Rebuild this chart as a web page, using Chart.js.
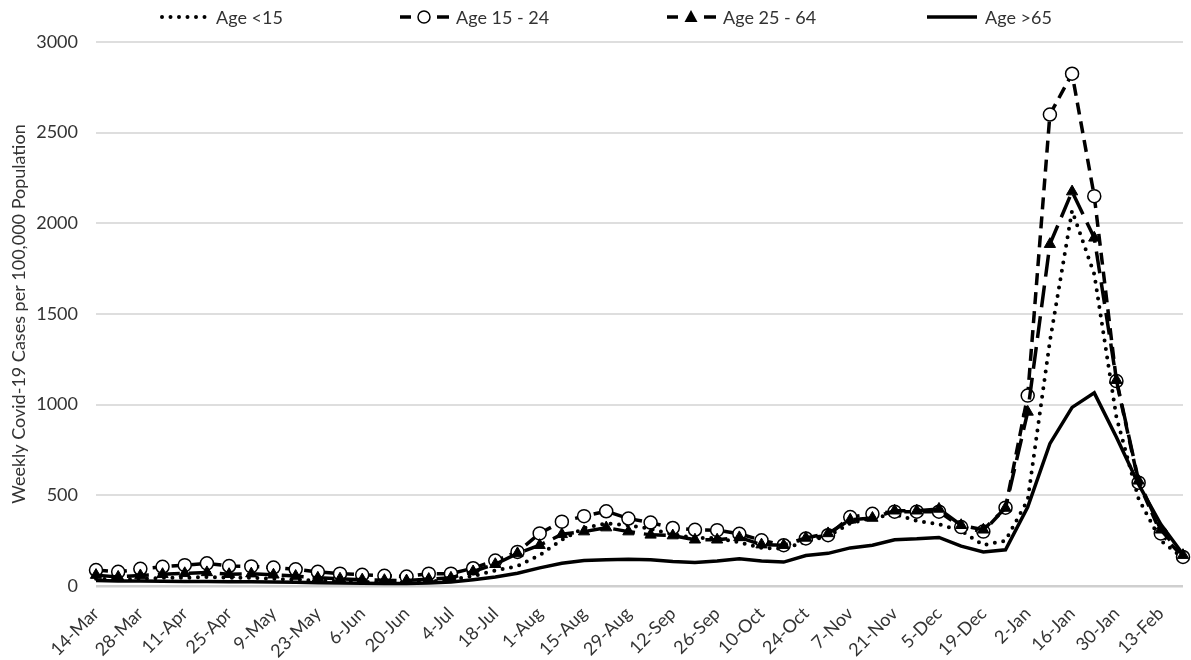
<!DOCTYPE html>
<html>
<head>
<meta charset="utf-8">
<script src="https://cdn.jsdelivr.net/npm/chart.js@4.4.0/dist/chart.umd.min.js"></script>
<style>
  html, body { margin: 0; padding: 0; background: #fff; }
</style>
</head>
<body>
<canvas id="covidChart" width="1191" height="660"></canvas>
<script>
"use strict";

// weekly points, a label shown every two weeks
const weeks = ['14-Mar', '21-Mar', '28-Mar', '4-Apr', '11-Apr', '18-Apr', '25-Apr', '2-May', '9-May', '16-May',
    '23-May', '30-May', '6-Jun', '13-Jun', '20-Jun', '27-Jun', '4-Jul', '11-Jul', '18-Jul', '25-Jul',
    '1-Aug', '8-Aug', '15-Aug', '22-Aug', '29-Aug', '5-Sep', '12-Sep', '19-Sep', '26-Sep', '3-Oct',
    '10-Oct', '17-Oct', '24-Oct', '31-Oct', '7-Nov', '14-Nov', '21-Nov', '28-Nov', '5-Dec', '12-Dec',
    '19-Dec', '26-Dec', '2-Jan', '9-Jan', '16-Jan', '23-Jan', '30-Jan', '6-Feb', '13-Feb', '20-Feb'];

const ageUnder15 = [40, 35, 40, 45, 45, 50, 45, 45, 40, 35,
    30, 25, 22, 20, 20, 25, 35, 55, 85, 110,
    170, 255, 320, 345, 335, 315, 285, 265, 265, 240,
    210, 205, 245, 275, 345, 375, 395, 360, 340, 305,
    225, 250, 475, 1350, 2070, 1720, 930, 480, 250, 155];

const age15to24 = [88, 78, 95, 106, 115, 125, 110, 108, 102, 92,
    78, 68, 62, 56, 52, 68, 68, 98, 140, 188,
    290, 355, 385, 412, 372, 350, 320, 310, 308, 288,
    252, 225, 262, 280, 380, 398, 410, 410, 410, 325,
    300, 432, 1050, 2600, 2825, 2150, 1130, 570, 290, 160];

const age25to64 = [60, 50, 58, 65, 70, 75, 65, 68, 62, 55,
    45, 40, 35, 32, 30, 38, 45, 80, 120, 180,
    225, 285, 300, 322, 300, 282, 278, 255, 255, 268,
    228, 225, 265, 290, 365, 375, 415, 415, 425, 335,
    310, 430, 960, 1885, 2175, 1920, 1135, 580, 310, 170];

const ageOver65 = [30, 28, 27, 26, 25, 25, 24, 23, 22, 20,
    18, 16, 15, 14, 14, 16, 22, 35, 50, 70,
    100, 125, 140, 145, 148, 145, 135, 130, 138, 150,
    138, 132, 168, 180, 210, 225, 255, 260, 268, 220,
    188, 200, 435, 785, 985, 1065, 820, 560, 340, 175];

const FONT = 'Lato, "Open Sans", sans-serif';
const TEXT = '#333333';

// legend drawn by hand so each sample shows its line pattern and marker
const lineLegend = {
    id: 'lineLegend',
    afterDraw(chart) {
        const ctx = chart.ctx;
        const starts = [160, 400, 667, 925];
        const y = 17;
        chart.data.datasets.forEach((ds, i) => {
            const x = starts[i];
            ctx.save();
            ctx.strokeStyle = '#000';
            ctx.fillStyle = '#000';
            ctx.lineWidth = ds.borderWidth;
            if (ds.pointRadius === 0) {
                ctx.lineCap = ds.borderCapStyle || 'butt';
                ctx.setLineDash(ds.borderDash || []);
                ctx.beginPath();
                ctx.moveTo(x + 2, y);
                ctx.lineTo(x + 52, y);
                ctx.stroke();
            } else {
                ctx.beginPath();
                ctx.moveTo(x, y); ctx.lineTo(x + 11, y);
                ctx.moveTo(x + 37, y); ctx.lineTo(x + 49, y);
                ctx.stroke();
                ctx.lineWidth = 1.5;
                ctx.beginPath();
                if (ds.pointStyle === 'circle') {
                    ctx.arc(x + 24, y, 6, 0, Math.PI * 2);
                    ctx.fillStyle = '#fff';
                    ctx.fill();
                    ctx.stroke();
                } else {
                    ctx.moveTo(x + 24, y - 7);
                    ctx.lineTo(x + 30.5, y + 5);
                    ctx.lineTo(x + 17.5, y + 5);
                    ctx.closePath();
                    ctx.fill();
                }
            }
            ctx.fillStyle = TEXT;
            ctx.font = '18px ' + FONT;
            ctx.textBaseline = 'middle';
            ctx.fillText(ds.label, x + (ds.pointRadius === 0 && !ds.borderDash ? 60 : 56), y + 1);
            ctx.restore();
        });
    }
};

const ctx = document.getElementById('covidChart').getContext('2d');
ctx.canvas.style.background = '#fff';

const covidChart = new Chart(ctx, {
    type: 'line',
    data: {
        labels: weeks,
        datasets: [{
            label: 'Age <15',
            data: ageUnder15,
            borderColor: '#000',
            borderWidth: 4,
            borderDash: [0, 8.5],
            borderCapStyle: 'round',
            pointRadius: 0,
            order: 3
        }, {
            label: 'Age 15 - 24',
            data: age15to24,
            borderColor: '#000',
            borderWidth: 3.5,
            borderDash: [12, 7],
            pointStyle: 'circle',
            pointRadius: 6.5,
            pointBorderWidth: 1.5,
            pointBackgroundColor: '#fff',
            pointBorderColor: '#000',
            order: 2
        }, {
            label: 'Age 25 - 64',
            data: age25to64,
            borderColor: '#000',
            borderWidth: 3.5,
            borderDash: [22, 9],
            pointStyle: 'triangle',
            pointRadius: 6.5,
            pointBorderWidth: 1,
            pointBackgroundColor: '#000',
            pointBorderColor: '#000',
            order: 1
        }, {
            label: 'Age >65',
            data: ageOver65,
            borderColor: '#000',
            borderWidth: 3.5,
            pointRadius: 0,
            order: 0
        }]
    },
    options: {
        responsive: false,
        animation: false,
        clip: false,
        elements: { line: { tension: 0, fill: false } },
        layout: { padding: { top: 42, right: 1, left: 0, bottom: 0 } },
        plugins: {
            legend: { display: false },
            tooltip: { enabled: false }
        },
        scales: {
            x: {
                offset: false,
                grid: { display: false },
                border: { display: false },
                ticks: {
                    autoSkip: false,
                    maxRotation: 45,
                    minRotation: 45,
                    padding: 9,
                    color: TEXT,
                    font: { family: FONT, size: 18 },
                    callback: function (value, index) {
                        return index % 2 === 0 ? this.getLabelForValue(value) : '';
                    }
                },
                afterFit: (scale) => {
                    scale.height = 74;
                    scale.paddingRight = 0;
                    scale.paddingLeft = 0;
                }
            },
            y: {
                min: 0,
                max: 3000,
                grid: {
                    drawTicks: false,
                    color: (c) => c.tick && c.tick.value === 0 ? '#cfcfcf' : '#dedede',
                    lineWidth: (c) => c.tick && c.tick.value === 0 ? 2.5 : 2
                },
                border: { display: false },
                ticks: {
                    stepSize: 500,
                    padding: 18,
                    color: TEXT,
                    font: { family: FONT, size: 18 },
                    callback: (value) => String(value)
                },
                title: {
                    display: true,
                    text: 'Weekly Covid-19 Cases per 100,000 Population',
                    color: TEXT,
                    font: { family: FONT, size: 18 },
                    padding: { top: 8, bottom: 0 }
                },
                afterFit: (scale) => {
                    scale.width = 96;
                }
            }
        }
    },
    plugins: [lineLegend]
});
</script>
</body>
</html>
